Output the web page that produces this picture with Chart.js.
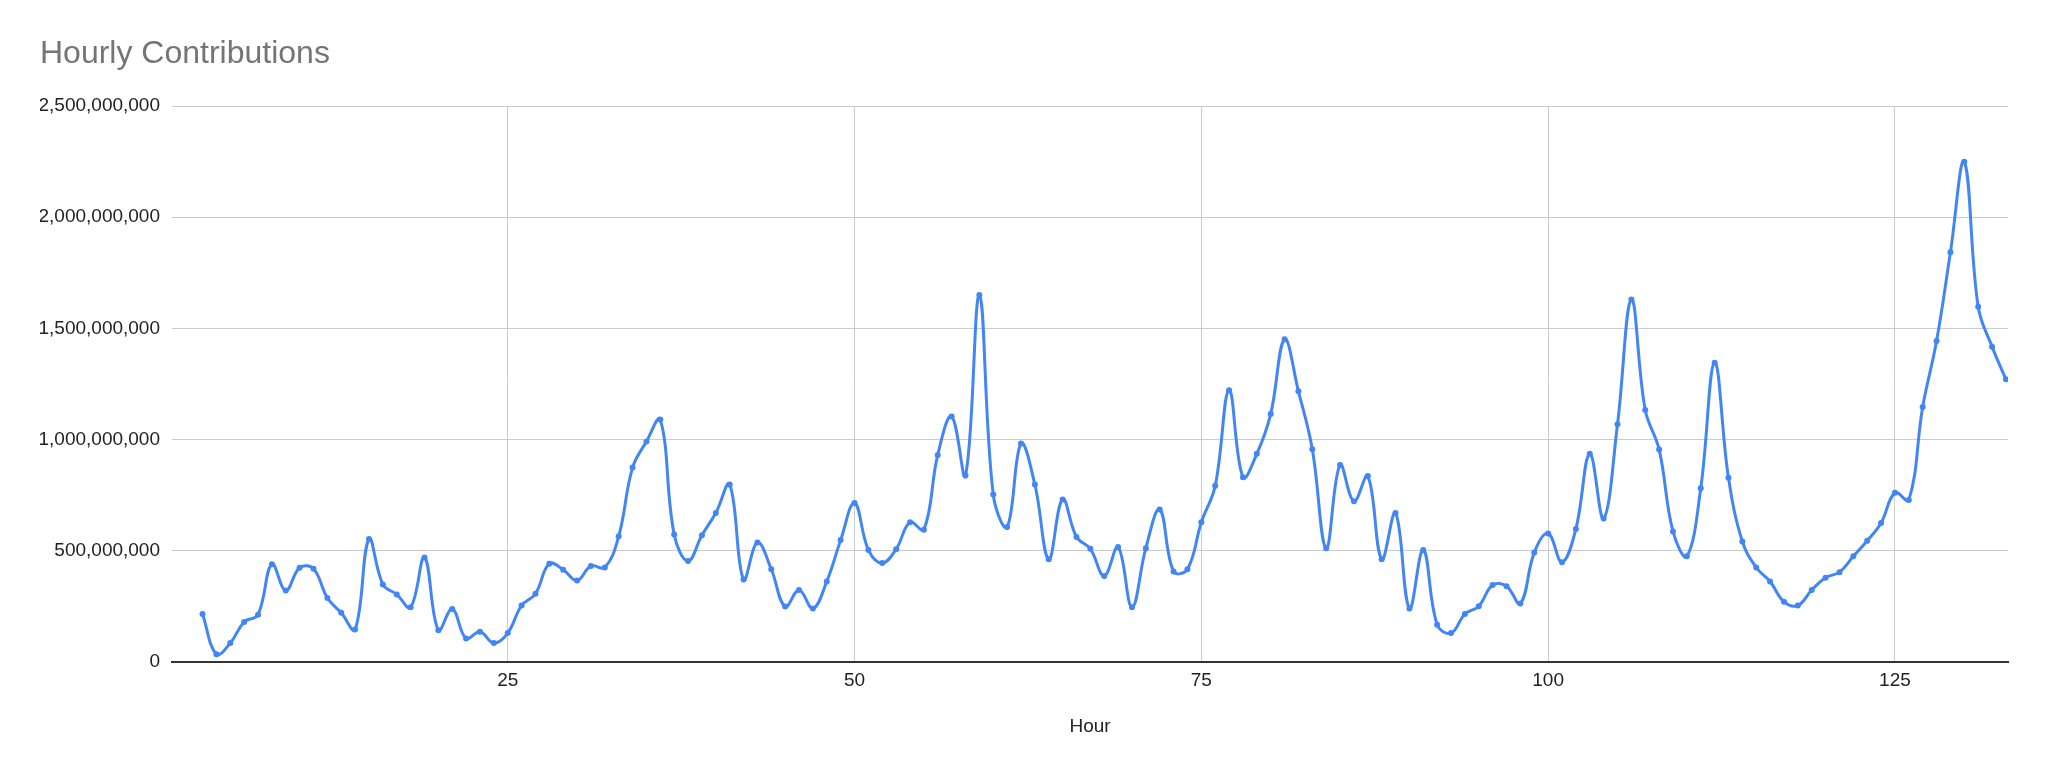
<!DOCTYPE html>
<html>
<head>
<meta charset="utf-8">
<script src="https://cdn.jsdelivr.net/npm/chart.js@4/dist/chart.umd.min.js"></script>
<style>
  html, body { margin: 0; padding: 0; background: #ffffff; }
  #wrap { width: 2048px; height: 779px; position: relative; }
</style>
</head>
<body>
<div id="wrap"><canvas id="c"></canvas></div>
<script>
const chartTitle = "Hourly Contributions";
const xAxisTitle = "Hour";

const hours = [
  3, 4, 5, 6, 7, 8, 9, 10, 11, 12, 13, 14, 15, 16, 17, 18, 19, 20, 21, 22,
  23, 24, 25, 26, 27, 28, 29, 30, 31, 32, 33, 34, 35, 36, 37, 38, 39, 40, 41, 42,
  43, 44, 45, 46, 47, 48, 49, 50, 51, 52, 53, 54, 55, 56, 57, 58, 59, 60, 61, 62,
  63, 64, 65, 66, 67, 68, 69, 70, 71, 72, 73, 74, 75, 76, 77, 78, 79, 80, 81, 82,
  83, 84, 85, 86, 87, 88, 89, 90, 91, 92, 93, 94, 95, 96, 97, 98, 99, 100, 101, 102,
  103, 104, 105, 106, 107, 108, 109, 110, 111, 112, 113, 114, 115, 116, 117, 118, 119, 120, 121, 122,
  123, 124, 125, 126, 127, 128, 129, 130, 131, 132, 133
];

// contributions in millions
const contributionsMillions = [
  216, 35, 85, 180, 213, 440, 321, 424, 419, 288, 221, 146, 553, 349, 304, 246, 470, 143, 238, 106,
  136, 85, 130, 254, 307, 442, 415, 366, 432, 425, 565, 874, 991, 1090, 573, 454, 570, 670, 798, 371,
  537, 417, 249, 324, 241, 362, 548, 715, 504, 445, 507, 628, 595, 931, 1104, 839, 1650, 753, 607, 982,
  798, 462, 731, 562, 509, 387, 517, 246, 512, 686, 407, 417, 628, 792, 1222, 831, 936, 1115, 1451, 1217,
  957, 512, 886, 723, 836, 462, 670, 241, 504, 168, 130, 216, 251, 346, 341, 263, 492, 578, 449, 598,
  936, 645, 1069, 1630, 1133, 956, 587, 475, 781, 1346, 828, 542, 425, 362, 271, 254, 324, 379, 404, 475,
  545, 625, 761, 728, 1147, 1443, 1842, 2249, 1597, 1418, 1271
];

const xTickValues = [25, 50, 75, 100, 125];
const yTickValues = [0, 500000000, 1000000000, 1500000000, 2000000000, 2500000000];

const points = hours.map((h, i) => ({ x: h, y: contributionsMillions[i] * 1e6 }));

const FONT = "'Liberation Sans', Arial, Helvetica, sans-serif";
const BLUE = '#4285F4';

new Chart(document.getElementById('c'), {
  type: 'line',
  data: {
    datasets: [{
      label: 'Contributions',
      data: points,
      borderColor: BLUE,
      backgroundColor: BLUE,
      borderWidth: 3,
      pointRadius: 3,
      pointBorderWidth: 0,
      pointBackgroundColor: BLUE,
      tension: 0.4,
      fill: false
    }]
  },
  options: {
    responsive: true,
    maintainAspectRatio: false,
    animation: false,
    layout: { padding: { left: 40, right: 40, top: 0, bottom: 0 } },
    plugins: {
      legend: { display: false },
      tooltip: { enabled: false },
      title: {
        display: true,
        text: chartTitle,
        align: 'start',
        color: '#757575',
        font: { family: FONT, size: 32, weight: 'normal' },
        padding: { top: 35, bottom: 32.6 }
      }
    },
    scales: {
      x: {
        type: 'linear',
        min: 0.8,
        max: 133.15,
        afterBuildTicks: (scale) => { scale.ticks = xTickValues.map(v => ({ value: v })); },
        afterFit: (scale) => { scale.height = 117; },
        ticks: {
          color: '#222222',
          font: { family: FONT, size: 19 },
          padding: 7,
          maxRotation: 0,
          autoSkip: false,
          callback: (v) => String(v)
        },
        grid: { color: '#cccccc', lineWidth: 1, drawTicks: false },
        border: { display: true, color: '#333333', width: 2 },
        title: {
          display: true,
          text: xAxisTitle,
          color: '#222222',
          font: { family: FONT, size: 19 },
          padding: { top: 4, bottom: 40.6 }
        }
      },
      y: {
        type: 'linear',
        min: 0,
        max: 2500000000,
        afterBuildTicks: (scale) => { scale.ticks = yTickValues.map(v => ({ value: v })); },
        afterFit: (scale) => { scale.width = 132; },
        ticks: {
          color: '#222222',
          font: { family: FONT, size: 19 },
          padding: 12,
          autoSkip: false,
          callback: (v) => Number(v).toLocaleString('en-US')
        },
        grid: { color: '#cccccc', lineWidth: 1, drawTicks: false },
        border: { display: false }
      }
    }
  }
});
</script>
</body>
</html>
